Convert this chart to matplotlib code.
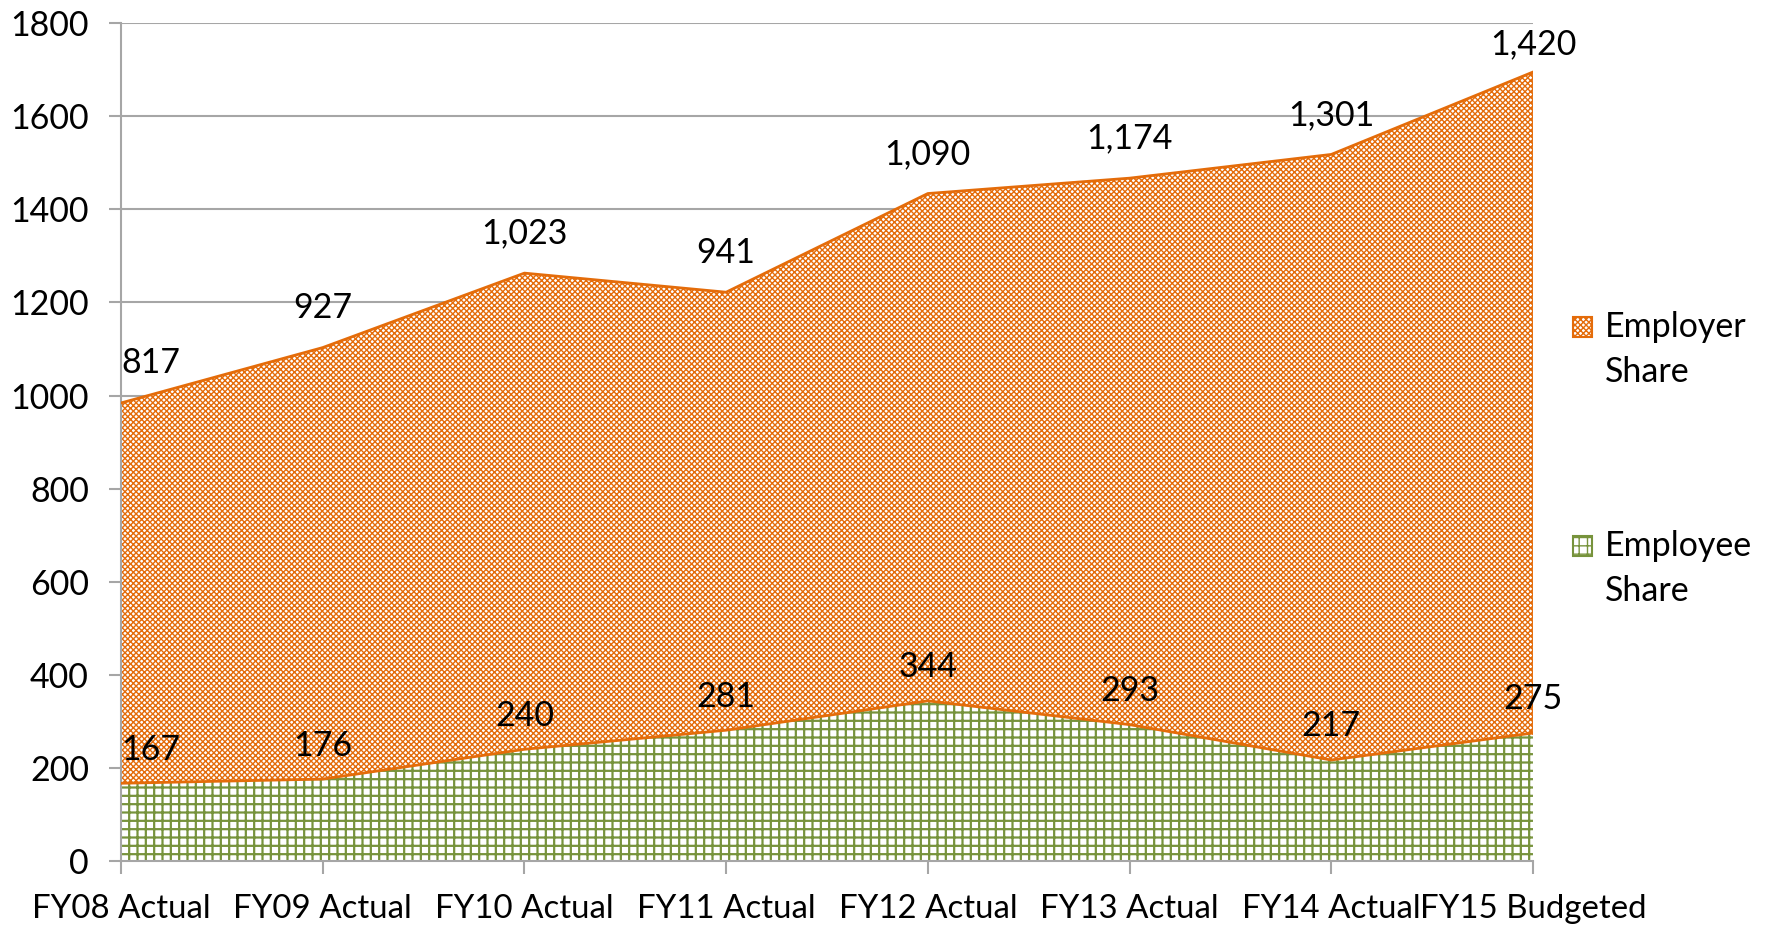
import matplotlib.pyplot as plt
from matplotlib.patches import Rectangle

years = ['FY08 Actual', 'FY09 Actual', 'FY10 Actual', 'FY11 Actual',
         'FY12 Actual', 'FY13 Actual', 'FY14 Actual', 'FY15 Budgeted']
employee = [167, 176, 240, 281, 344, 293, 217, 275]
employer = [817, 927, 1023, 941, 1090, 1174, 1301, 1420]

orange = '#E46C0A'
green = '#77933C'
grey = '#A6A6A6'
fs = 24.5

plt.rcParams['font.family'] = ['Lato', 'DejaVu Sans']

fig = plt.figure(figsize=(17.71, 9.27), dpi=100)
ax = fig.add_axes([0.0683, 0.0712, 0.7973, 0.9038])

x = list(range(len(years)))
total = [a + b for a, b in zip(employee, employer)]

# employee share (green grid)
plt.rcParams['hatch.linewidth'] = 1.6
ax.fill_between(x, 0, employee, facecolor='white', edgecolor=green,
                hatch='++', linewidth=0, zorder=2)
# employer share (orange checker)
plt.rcParams['hatch.linewidth'] = 1.0
ax.fill_between(x, employee, total, facecolor='white', edgecolor=orange,
                hatch='xxxxxx', linewidth=0, zorder=2)
ax.plot(x, total, color=orange, lw=2, zorder=3)
ax.plot(x, employee, color=orange, lw=2, zorder=3)
ax.plot([x[-1], x[-1]], [employee[-1], total[-1]], color=orange, lw=2, zorder=3)

# data labels
for i in x:
    ha = 'left' if i == 0 else 'center'
    off = 60 if i == x[-1] else 85
    ax.text(i, total[i] + off, f'{employer[i]:,}', ha=ha, va='center',
            fontsize=fs, zorder=4)
    ax.text(i, employee[i] + 72, f'{employee[i]:,}', ha=ha, va='center',
            fontsize=fs, zorder=4)

ax.set_xlim(0, len(years) - 1)
ax.set_ylim(0, 1800)
ax.set_yticks(range(0, 1801, 200))
ax.set_xticks(x)
ax.set_xticklabels(years)
ax.tick_params(axis='both', labelsize=fs, colors=grey, labelcolor='black',
               length=9, width=1.5)
ax.tick_params(axis='x', pad=15, labelsize=23.8)
ax.tick_params(axis='y', pad=14)
ax.yaxis.grid(True, color=grey, lw=1.5)
ax.set_axisbelow(True)
for s in ['top', 'right']:
    ax.spines[s].set_visible(False)
for s in ['left', 'bottom']:
    ax.spines[s].set_color(grey)
    ax.spines[s].set_linewidth(1.5)

# legend drawn by hand so the swatch sits next to the first text line
items = [('Employer', orange, 'xxxxxx', 0.647),
         ('Employee', green, '++', 0.411)]
for label, col, hatch, yy in items:
    fig.add_artist(Rectangle((0.888, yy - 0.0105), 0.011, 0.021,
                             transform=fig.transFigure, facecolor='white',
                             edgecolor=col, hatch=hatch, lw=1.5))
    fig.text(0.906, yy, label, fontsize=fs, va='center')
    fig.text(0.906, yy - 0.0485, 'Share', fontsize=fs, va='center')

fig.savefig('out.png', dpi=100)
